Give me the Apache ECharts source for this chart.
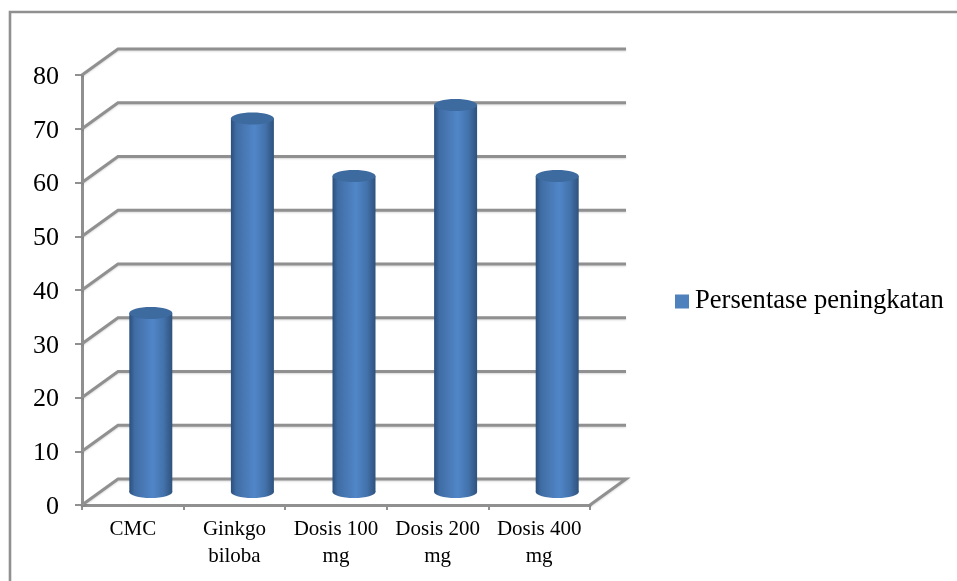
<!DOCTYPE html>
<html>
<head>
<meta charset="utf-8">
<style>html,body{margin:0;padding:0;background:#fff}#chart{width:957px;height:581px}</style>
<script src="https://cdn.jsdelivr.net/npm/echarts@6/dist/echarts.min.js"></script>
</head>
<body>
<div id="chart"></div>
<script>
// Percentage increase per treatment group
var categories = ['CMC', 'Ginkgo\nbiloba', 'Dosis 100\nmg', 'Dosis 200\nmg', 'Dosis 400\nmg'];
var seriesName = 'Persentase peningkatan';
var values = [33.3, 69.5, 58.8, 72, 58.8];
var gridTicks = [0, 10, 20, 30, 40, 50, 60, 70, 80];

// Oblique projection of the chart's floor depth
var DEPTH_X = 36, DEPTH_Y = -26;
var AXIS_GRAY = '#909090';
var FONT = '"Liberation Serif", "Times New Roman", serif';

var chart = echarts.init(document.getElementById('chart'), null, {renderer: 'canvas'});

function renderWall(params, api) {
  var v = api.value(0);
  var band = api.size([1, 0])[0];
  var first = api.coord([0, v]);
  var last = api.coord([categories.length - 1, v]);
  var x0 = first[0] - band / 2, x1 = last[0] + band / 2, y = first[1];
  var pts = [[x0, y], [x0 + DEPTH_X, y + DEPTH_Y], [x1 + DEPTH_X, y + DEPTH_Y]];
  if (v === 0) pts.push([x1, y]);
  return {
    type: 'polyline',
    shape: {points: pts},
    style: {
      stroke: AXIS_GRAY, lineWidth: 3, fill: null,
      shadowBlur: 2, shadowColor: 'rgba(0,0,0,0.15)', shadowOffsetY: 1
    }
  };
}

function renderCylinder(params, api) {
  var idx = api.value(0);
  var top = api.coord([idx, api.value(1)]);
  var base = api.coord([idx, 0]);
  var rx = 21.5, ry = 6;
  var cx = top[0] + DEPTH_X / 2;
  var topY = top[1] + DEPTH_Y / 2;
  var baseY = base[1] + DEPTH_Y / 2;
  var side = new echarts.graphic.LinearGradient(0, 0, 1, 0, [
    {offset: 0, color: '#2b4f7c'},
    {offset: 0.12, color: '#3f6ca3'},
    {offset: 0.35, color: '#4a7ab7'},
    {offset: 0.55, color: '#5086c8'},
    {offset: 0.8, color: '#4372ab'},
    {offset: 1, color: '#2f527d'}
  ]);
  return {
    type: 'group',
    children: [
      {type: 'ellipse', shape: {cx: cx, cy: baseY, rx: rx, ry: ry}, style: {fill: side}},
      {type: 'rect', shape: {x: cx - rx, y: topY, width: rx * 2, height: baseY - topY}, style: {fill: side}},
      {type: 'ellipse', shape: {cx: cx, cy: topY, rx: rx, ry: ry}, style: {fill: '#3d6a9f'}}
    ]
  };
}

chart.setOption({
  animation: false,
  backgroundColor: '#ffffff',
  textStyle: {fontFamily: FONT},
  grid: {left: 82, right: 367, top: 75, bottom: 76, containLabel: false},
  graphic: [{
    type: 'rect', silent: true, z: -1,
    shape: {x: 10, y: 12, width: 980, height: 600},
    style: {fill: null, stroke: AXIS_GRAY, lineWidth: 2.6}
  }],
  legend: {
    show: true, left: 675, top: 288,
    icon: 'rect', itemWidth: 14, itemHeight: 14, itemGap: 0,
    padding: 0,
    data: [seriesName],
    textStyle: {fontFamily: FONT, fontSize: 26.6, color: '#000', padding: [0, 0, 0, 1]}
  },
  xAxis: {
    type: 'category',
    data: categories,
    boundaryGap: true,
    axisLine: {show: true, lineStyle: {color: AXIS_GRAY, width: 3}},
    axisTick: {show: true, length: 5, lineStyle: {color: AXIS_GRAY, width: 2}},
    axisLabel: {interval: 0, margin: 11, fontFamily: FONT, fontSize: 21, lineHeight: 27, color: '#000'}
  },
  yAxis: {
    type: 'value',
    min: 0, max: 80, interval: 10,
    axisLine: {show: true, lineStyle: {color: AXIS_GRAY, width: 3}},
    axisTick: {show: true, length: 7, lineStyle: {color: AXIS_GRAY, width: 2}},
    splitLine: {show: false},
    // A short line box anchored at the tick sits the digits just below its centre
    axisLabel: {margin: 23, fontFamily: FONT, fontSize: 26, color: '#000', verticalAlign: 'top', lineHeight: 4}
  },
  series: [
    {
      type: 'custom',
      name: 'wall',
      coordinateSystem: 'cartesian2d',
      renderItem: renderWall,
      data: gridTicks.map(function (t) { return [t]; }),
      encode: {y: 0},
      silent: true,
      z: 1
    },
    {
      type: 'custom',
      name: seriesName,
      coordinateSystem: 'cartesian2d',
      renderItem: renderCylinder,
      itemStyle: {color: '#4f81bd'},
      data: values.map(function (v, i) { return [i, v]; }),
      encode: {x: 0, y: 1},
      z: 3
    }
  ]
});
</script>
</body>
</html>
